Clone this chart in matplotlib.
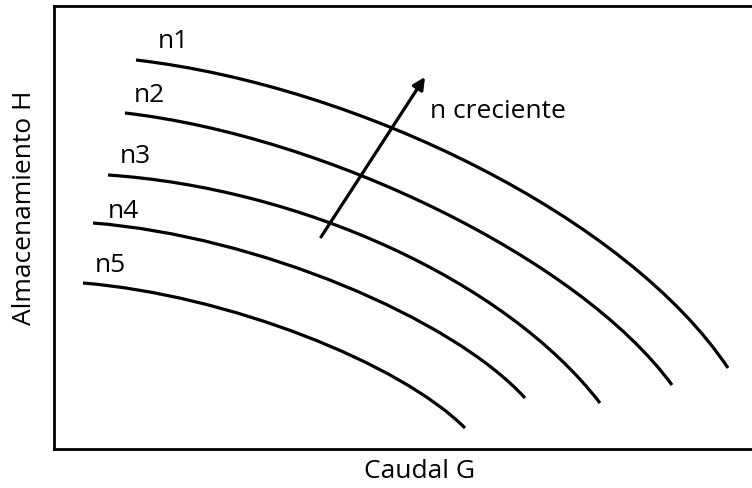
import matplotlib
matplotlib.use("Agg")
import matplotlib.pyplot as plt
from matplotlib.path import Path
from matplotlib.patches import PathPatch

plt.rcParams['font.family'] = ['Open Sans', 'DejaVu Sans']

# Curvas de la bomba para cada velocidad n (unidades arbitrarias, sin escala)
# Cada curva: punto inicial, dos puntos de control, punto final (Bezier cubica)
curve_names = ["n1", "n2", "n3", "n4", "n5"]
curve_G = [
    [82, 306, 574, 674],
    [71, 271, 525, 618],
    [54, 246, 451, 546],
    [39, 203, 398, 471],
    [29, 174, 346, 411],
]
curve_H = [
    [389, 363, 231, 81],
    [336, 313, 191, 64],
    [274, 261, 169, 46],
    [226, 213, 131, 51],
    [166, 154, 86, 21],
]

# Posicion de las etiquetas (esquina izquierda, linea base)
label_G = [104, 80, 66, 54, 41]
label_H = [401, 347, 286, 231, 177]

# Flecha "n creciente"
arrow_tail = (267, 212)
arrow_head = (371, 372)
arrow_text = "n creciente"
arrow_text_pos = (376, 331)

fig = plt.figure(figsize=(7.52, 4.88), dpi=100)
ax = fig.add_axes([54 / 752, 39 / 488, 698 / 752, 443 / 488])
ax.set_xlim(0, 698)
ax.set_ylim(0, 443)

for g, h in zip(curve_G, curve_H):
    verts = list(zip(g, h))
    codes = [Path.MOVETO, Path.CURVE4, Path.CURVE4, Path.CURVE4]
    ax.add_patch(PathPatch(Path(verts, codes), fill=False, lw=2.3,
                           edgecolor="black", capstyle="butt"))

for name, x, y in zip(curve_names, label_G, label_H):
    ax.text(x, y, name, fontsize=19, ha="left", va="baseline")

ax.annotate("", xy=arrow_head, xytext=arrow_tail,
            arrowprops=dict(arrowstyle="-|>", lw=2.3, color="black",
                            mutation_scale=18, shrinkA=0, shrinkB=0))
ax.text(arrow_text_pos[0], arrow_text_pos[1], arrow_text, fontsize=19,
        ha="left", va="baseline")

ax.set_xticks([])
ax.set_yticks([])
ax.spines["right"].set_visible(False)
for s in ["left", "top", "bottom"]:
    ax.spines[s].set_linewidth(2)

ax.set_xlabel("Caudal G", fontsize=19)
ax.set_ylabel("Almacenamiento H", fontsize=19)
ax.xaxis.set_label_coords(0.524, -0.022)
ax.yaxis.set_label_coords(-0.024, 0.544)

fig.savefig("out.png", dpi=100)
